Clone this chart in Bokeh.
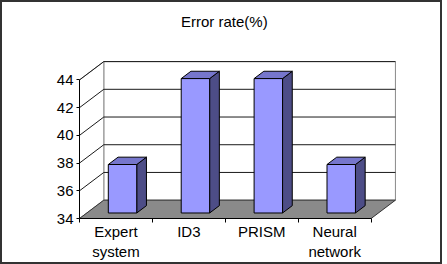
from bokeh.plotting import figure
from bokeh.models import ColumnDataSource, LinearAxis, FixedTicker, Range1d, Label
from bokeh.embed import file_html
from bokeh.resources import INLINE

# ---- data ----
categories = ["Expert\nsystem", "ID3", "PRISM", "Neural\nnetwork"]
error_rate = [37.5, 43.7, 43.7, 37.5]
y_ticks = [34, 36, 38, 40, 42, 44]
title_text = "Error rate(%)"

# ---- style constants (3D look) ----
Y0, Y1 = 34, 44
DX = 1 / 3.0          # depth offset in category units
DY = 18 / 13.6        # depth offset in value units
F1, F2 = 0.3, 0.7     # bar depth fractions
BL, BR = 0.295, 0.685 # bar left/right inside category
FONT = "Liberation Sans"
n = len(categories)

p = figure(width=442, height=264, output_backend="svg", toolbar_location=None,
           x_range=Range1d(0, 318 / 72.0), y_range=Range1d(Y0, Y0 + 212 / 13.6),
           min_border_left=77, min_border_right=43, min_border_top=0, min_border_bottom=48,
           x_axis_type=None, y_axis_type=None)
p.styles = {"border": "2px solid #333333"}
p.xgrid.visible = False
p.ygrid.visible = False
p.outline_line_color = None
p.background_fill_color = "white"
p.border_fill_color = "white"

# title placed above the walls
title = Label(x=(222 - 79) / 72.0, y=Y0 + (214 - 21) / 13.6, text=title_text,
              text_align="center", text_baseline="middle",
              text_font=FONT, text_font_size="15px", text_color="black")
p.add_layout(title)

# walls
p.patch([DX, n + DX, n + DX, DX], [Y0 + DY, Y0 + DY, Y1 + DY, Y1 + DY],
        fill_color="white", line_color="#8a8a8a", line_width=1)
p.patch([0, DX, DX, 0], [Y0, Y0 + DY, Y1 + DY, Y1],
        fill_color="white", line_color="#8a8a8a", line_width=1)

# gridlines
gx, gy = [], []
for v in y_ticks[1:]:
    gx.append([0, DX, n + DX])
    gy.append([v, v + DY, v + DY])
p.multi_line(gx, gy, line_color="#1a1a1a", line_width=1)

# floor
p.patch([0, n, n + DX, DX], [Y0, Y0, Y0 + DY, Y0 + DY],
        fill_color="#8a8a8a", line_color="#333333", line_width=1)

# bars
fx, fy, tx, ty, sx, sy = [], [], [], [], [], []
for i, v in enumerate(error_rate):
    x0 = i + BL
    x1 = i + BR
    a, b = F1 * DX, F2 * DX
    c, d = F1 * DY, F2 * DY
    fx.append([x0 + a, x1 + a, x1 + a, x0 + a])
    fy.append([Y0 + c, Y0 + c, v + c, v + c])
    tx.append([x0 + a, x1 + a, x1 + b, x0 + b])
    ty.append([v + c, v + c, v + d, v + d])
    sx.append([x1 + a, x1 + b, x1 + b, x1 + a])
    sy.append([Y0 + c, Y0 + d, v + d, v + c])
p.patches(sx, sy, fill_color="#4d4d87", line_color="black", line_width=1)
p.patches(tx, ty, fill_color="#7676cc", line_color="black", line_width=1)
p.patches(fx, fy, fill_color="#9999ff", line_color="black", line_width=1)

# y axis
yax = LinearAxis(ticker=FixedTicker(ticks=y_ticks, minor_ticks=[]), bounds=(Y0, Y1))
yax.axis_line_color = "black"
yax.major_tick_in = 0
yax.major_tick_out = 3
yax.major_tick_line_color = "black"
yax.minor_tick_line_color = None
yax.major_label_standoff = 3
yax.major_label_text_font = FONT
yax.major_label_text_font_size = "15px"
yax.major_label_text_color = "black"
p.add_layout(yax, "left")

# x axis
centers = [i + 0.5 for i in range(n)]
xax = LinearAxis(ticker=FixedTicker(ticks=centers, minor_ticks=list(range(n + 1))), bounds=(0, n))
xax.major_label_overrides = {c: lab for c, lab in zip(centers, categories)}
xax.axis_line_color = "black"
xax.major_tick_line_color = None
xax.major_tick_in = 0
xax.major_tick_out = 0
xax.minor_tick_in = 0
xax.minor_tick_out = 4
xax.minor_tick_line_color = "black"
xax.major_label_standoff = 0
xax.major_label_text_font = FONT
xax.major_label_text_font_size = "15px"
xax.major_label_text_color = "black"
p.add_layout(xax, "below")

open("out.html", "w").write(file_html(p, INLINE))
